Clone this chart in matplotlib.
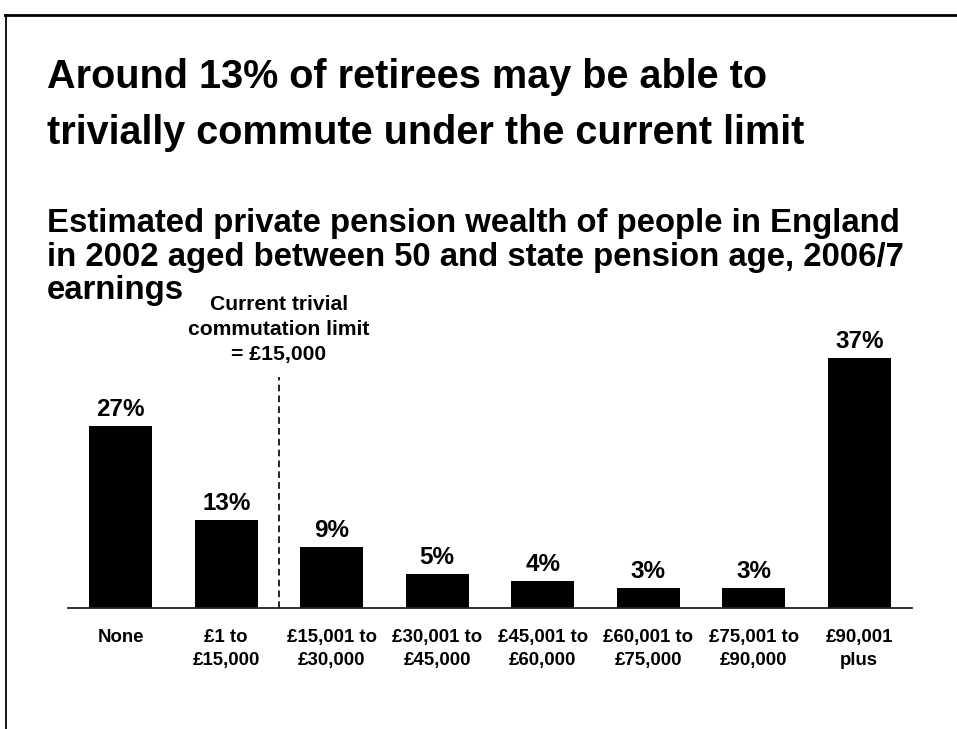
import matplotlib.pyplot as plt
from matplotlib.lines import Line2D

plt.rcParams['font.family'] = ['Liberation Sans', 'DejaVu Sans']
plt.rcParams['font.weight'] = 'bold'

# pension wealth bands and share of people in each (%)
bands = ["None", "£1 to\n£15,000", "£15,001 to\n£30,000", "£30,001 to\n£45,000",
         "£45,001 to\n£60,000", "£60,001 to\n£75,000", "£75,001 to\n£90,000", "£90,001\nplus"]
shares = [27, 13, 9, 5, 4, 3, 3, 37]
limit_pos = 1.5   # between "£1 to £15,000" and "£15,001 to £30,000"

W, H = 957, 729
fig = plt.figure(figsize=(W / 100, H / 100), dpi=100)

# slide frame: top and left rules
fig.add_artist(Line2D([5 / W, 1], [1 - 14.5 / H] * 2, color='black', lw=2.0))
fig.add_artist(Line2D([5.5 / W] * 2, [0, 1 - 14.5 / H], color='black', lw=1.3))

# multi-line text with va='baseline' sits on the baseline of its last line
fig.text(47 / W, 1 - 144 / H, "Around 13% of retirees may be able to\ntrivially commute under the current limit",
         fontsize=28.5, fontweight='bold', ha='left', va='baseline', linespacing=1.6)

# subtitle: last word set on its own so it stays clear of the limit note
sub_kw = dict(fontsize=23.7, fontweight='bold', ha='left', va='baseline', linespacing=1.12)
fig.text(47 / W, 1 - 265.5 / H,
         "Estimated private pension wealth of people in England\n"
         "in 2002 aged between 50 and state pension age, 2006/7", **sub_kw)
fig.text(47 / W, 1 - 299 / H, "earnings", **sub_kw)

ax_top, ax_bottom = 300, 608
ax = fig.add_axes([68 / W, 1 - ax_bottom / H, 844 / W, (ax_bottom - ax_top) / H])
ax.set_xlim(-0.5, len(bands) - 0.5)
ax.set_ylim(0, (ax_bottom - ax_top) / 6.75)

x = range(len(bands))
ax.bar(x, shares, width=0.6, color='black')
for xi, v in zip(x, shares):
    ax.annotate(f"{v}%", (xi, v), xytext=(0, 3.5), textcoords='offset points',
                ha='center', va='bottom', fontsize=17.5, fontweight='bold')

ax.plot([limit_pos, limit_pos], [0, 34.2], color='black', lw=1.2, ls=(0, (4, 2.5)))
ax.text(limit_pos, 36.8, "Current trivial\ncommutation limit\n= £15,000", ha='center', va='baseline',
        fontsize=15.2, fontweight='bold', linespacing=1.38, clip_on=False)

for s in ['top', 'right', 'left']:
    ax.spines[s].set_visible(False)
ax.spines['bottom'].set_linewidth(1.3)
ax.spines['bottom'].set_color('#222222')
ax.set_yticks([])
ax.set_xticks(list(x))
ax.set_xticklabels(bands, fontsize=13.4, fontweight='bold', linespacing=1.5)
ax.tick_params(axis='x', length=0, pad=15)

fig.savefig("out.png", dpi=100, facecolor='white')
